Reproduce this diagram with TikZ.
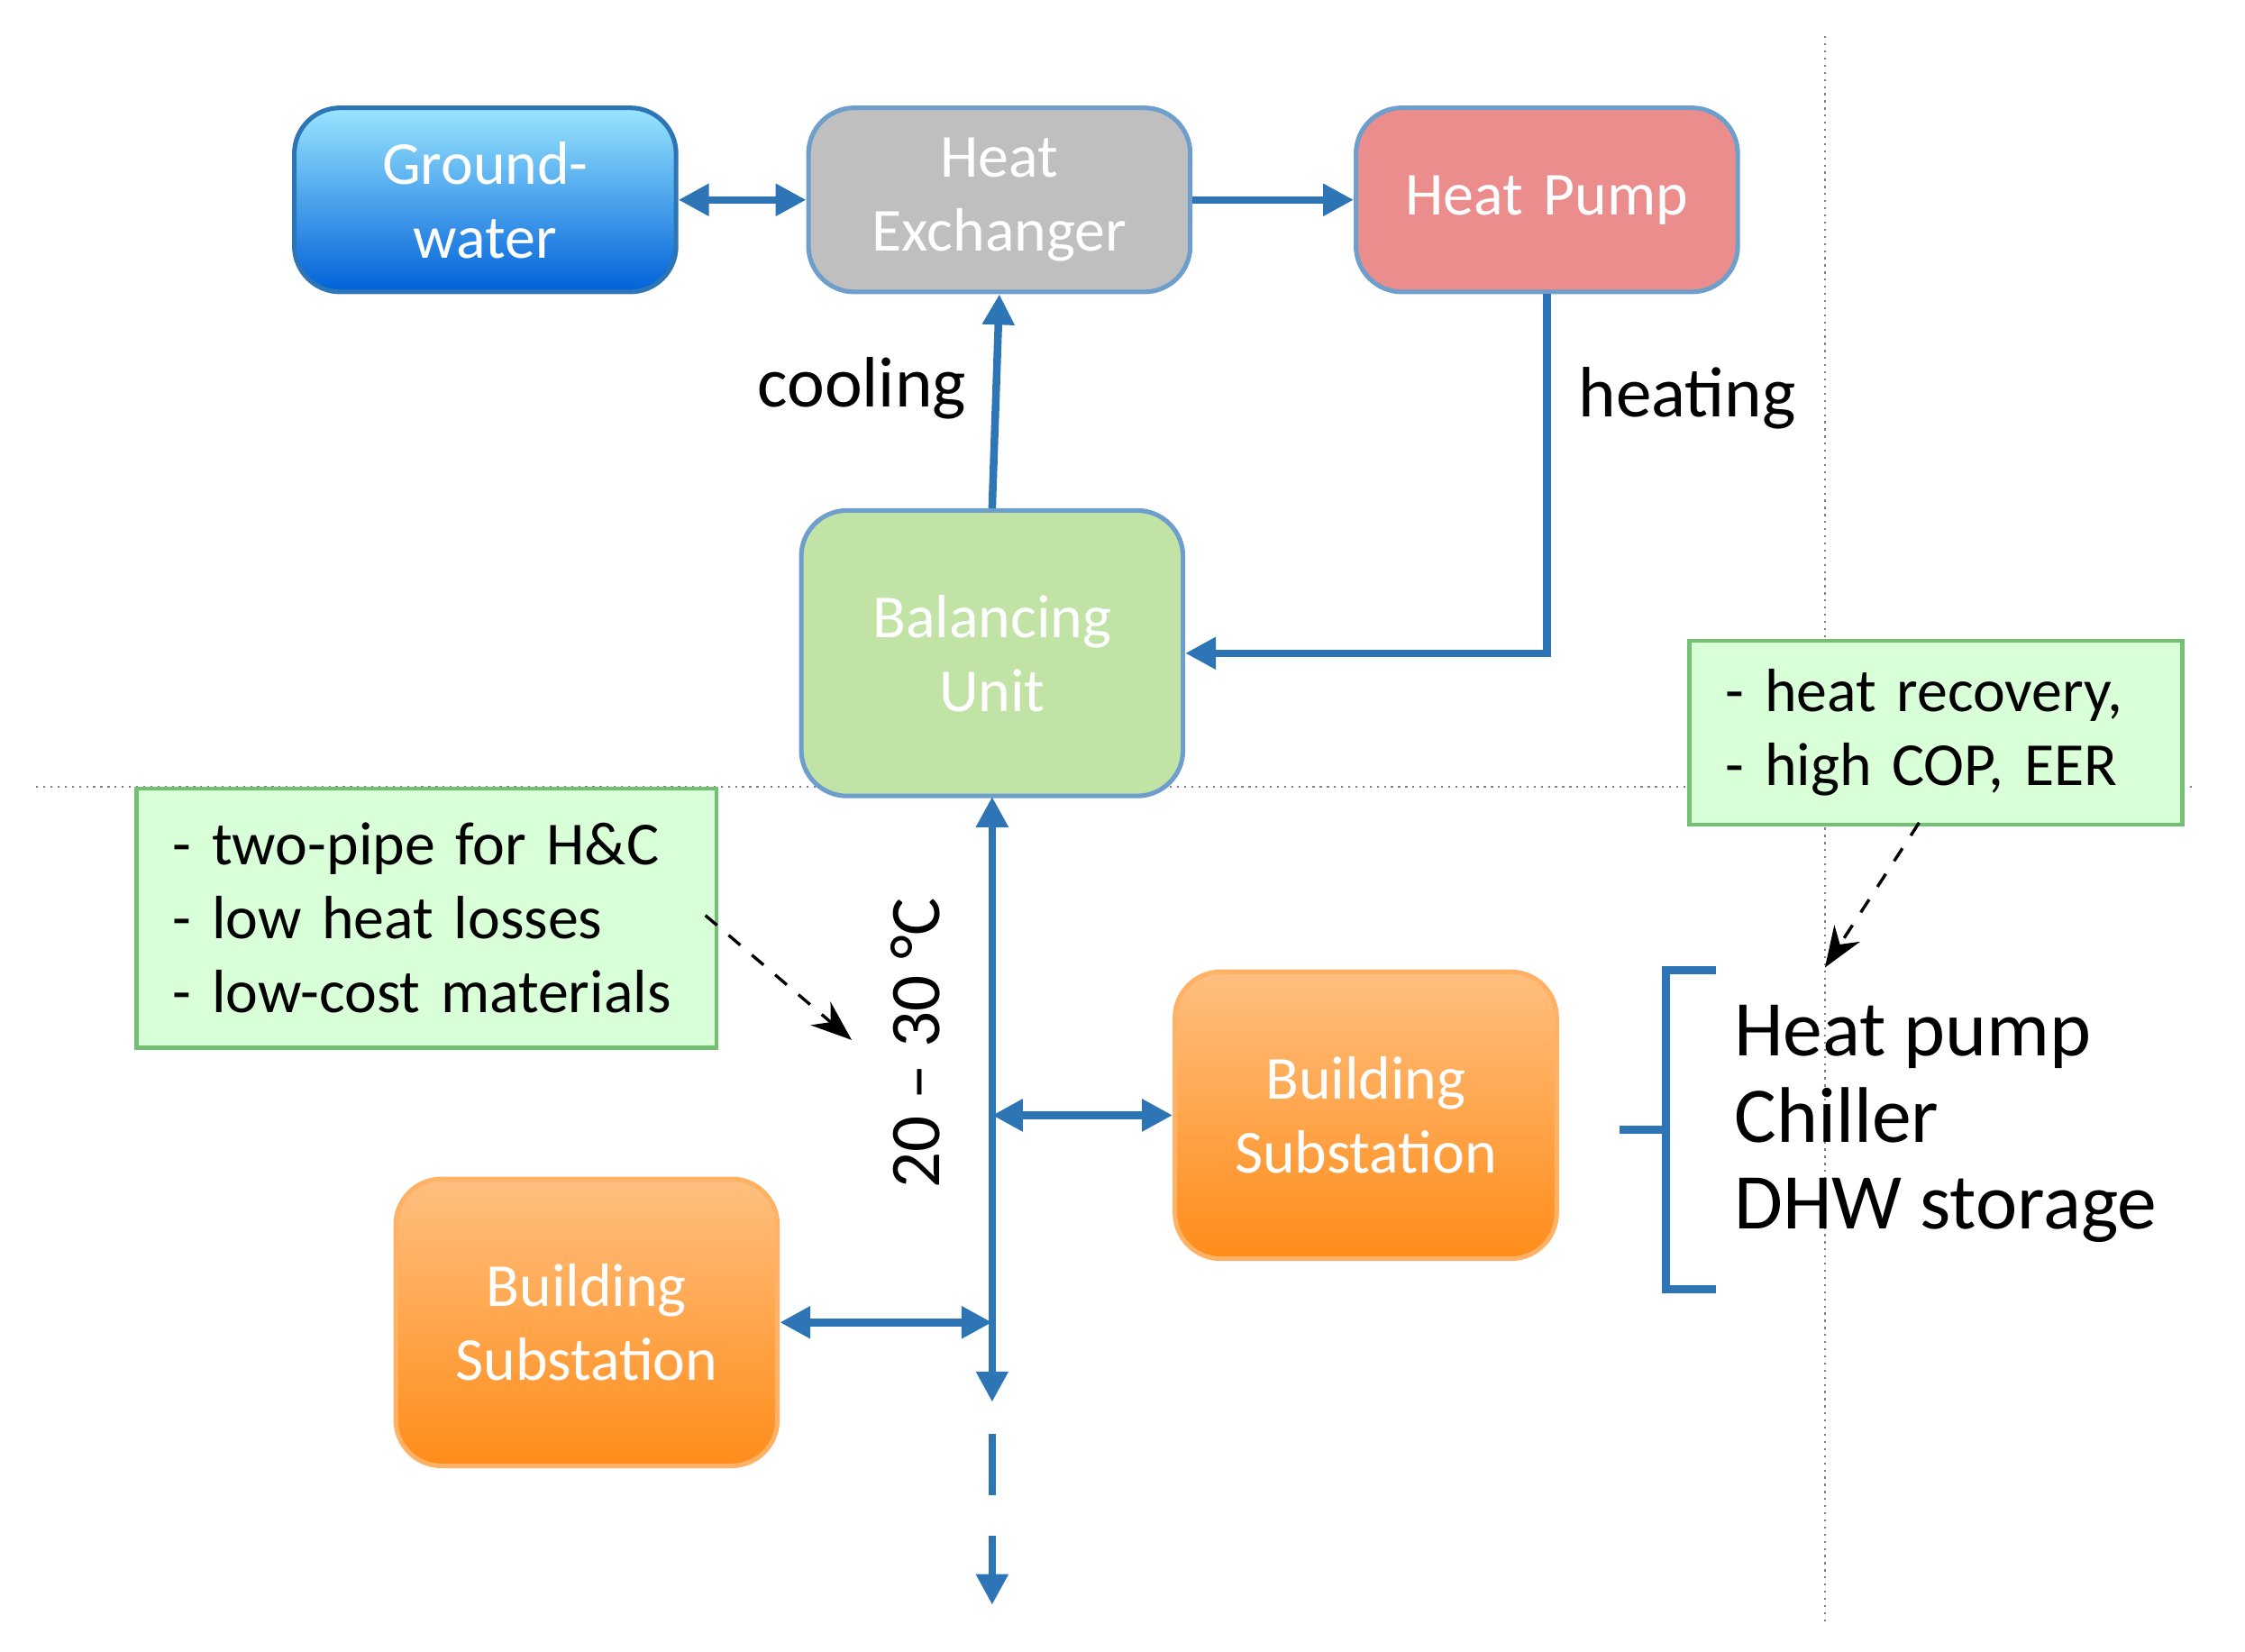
\documentclass[tikz,border=0pt]{standalone}
\usepackage{fontspec}
\setmainfont{Carlito}
\usetikzlibrary{arrows.meta,decorations.pathreplacing}
\definecolor{pipecol}{RGB}{46,117,182}
\begin{document}
\begin{tikzpicture}[x=0.01cm,y=-0.01cm,
 box/.style={rounded corners=9pt,draw=#1,line width=0.9pt,minimum width=2.56cm,text width=2.4cm,align=center,text=white,font=\fontsize{12}{14.5}\selectfont},
 note/.style={draw=green!55!black!55,fill=green!15,line width=0.8pt,align=left,font=\fontsize{12}{14.5}\selectfont,anchor=north west,inner sep=0pt},
 pipe/.style={draw=pipecol,line width=1.5pt,-{Triangle[length=6pt,width=6pt]}},
 bpipe/.style={draw=pipecol,line width=1.5pt,{Triangle[length=6pt,width=6pt]}-{Triangle[length=6pt,width=6pt]}},
 lab/.style={font=\fontsize{14}{17}\selectfont}]
\useasboundingbox (0,0) rectangle (1550,1140);
\draw[gray,densely dotted] (1260,25) -- (1260,1120);
\draw[gray,densely dotted] (25,543) -- (1515,543);
\node[box=pipecol,top color=blue!25!cyan!40,bottom color=blue!55!cyan!85!black,minimum height=1.27cm] (gw) at (335,138) {Ground-\\water};
\node[box=pipecol!70,fill=gray!50,minimum height=1.27cm] (he) at (690,138) {Heat\\Exchanger};
\node[box=pipecol!70,fill=red!40!white!92!black,minimum height=1.27cm] (hp) at (1068,138) {Heat Pump};
\node[box=pipecol!70,fill=green!40!olive!35!white,minimum height=1.97cm] (bu) at (685,451) {Balancing\\Unit};
\node[box=orange!60!white,top color=orange!50!white,bottom color=orange!90,minimum height=1.98cm] (bs1) at (943,770) {Building\\Substation};
\node[box=orange!60!white,top color=orange!50!white,bottom color=orange!90,minimum height=1.98cm] (bs2) at (405,913) {Building\\Substation};
\draw[bpipe] (gw.east) -- (he.west);
\draw[pipe] (he.east) -- (hp.west);
\draw[pipe] (bu.north) -- (he.south);
\draw[pipe] (hp.south) |- (bu.east);
\coordinate (top) at (685,550);
\coordinate (bot) at (685,968);
\coordinate (j1) at (685,770);
\coordinate (j2) at (685,913);
\draw[bpipe] (top) -- (bot);
\draw[bpipe] (j1) -- (bs1.west);
\draw[bpipe] (bs2.east) -- (j2);
\coordinate (d1) at (685,990);
\coordinate (d2) at (685,1108);
\draw[pipe,dash pattern=on 12pt off 8pt] (d1) -- (d2);
\node[lab] (cool) at (595,268) {cooling};
\node[lab] (heat) at (1165,275) {heating};
\node[lab,rotate=90] (temp) at (632,720) {20 – 30 °C};
\node[note,minimum width=3.94cm,minimum height=1.79cm,text width=3.5cm,inner xsep=0.25cm] (n1) at (93,543) {- two-pipe for H\&C\\- low heat losses\\- low-cost materials};
\node[note,minimum width=3.2cm,minimum height=1.27cm,text width=2.9cm,inner xsep=0.25cm] (n2) at (1165,441) {- heat recovery,\\- high COP, EER};
\coordinate (a1) at (588,718);
\coordinate (a2) at (1260,668);
\draw[dashed,-{Stealth[length=8pt]},semithick] (487,632) -- (a1);
\draw[dashed,-{Stealth[length=8pt]},semithick] (1325,568) -- (a2);
\draw[draw=pipecol,line width=1.6pt] (1185,670) -- (1150,670) -- (1150,780) -- (1118,780) (1150,780) -- (1150,890) -- (1185,890);
\node[anchor=west,align=left,font=\fontsize{15.5}{17}\selectfont] (lst) at (1185,776) {Heat pump\\Chiller\\DHW storage};
\end{tikzpicture}
\end{document}
